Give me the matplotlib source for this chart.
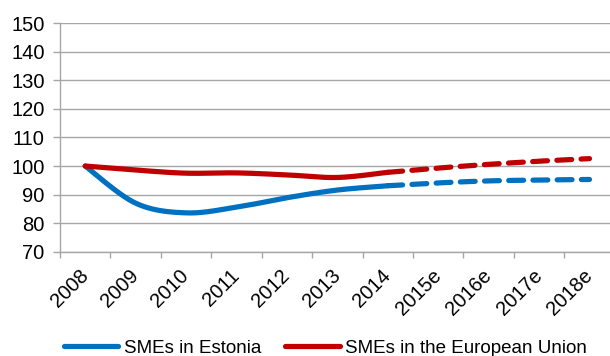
import numpy as np
import matplotlib
matplotlib.use("Agg")
import matplotlib.pyplot as plt

plt.rcParams["font.family"] = ["Liberation Sans", "DejaVu Sans"]

# Index values (2008 = 100)
years = ["2008", "2009", "2010", "2011", "2012", "2013", "2014",
         "2015e", "2016e", "2017e", "2018e"]
estonia = [100.0, 87.0, 83.6, 85.6, 88.9, 91.6, 93.1, 94.1, 94.8, 95.1, 95.3]
eu = [100.0, 98.6, 97.5, 97.6, 96.9, 96.0, 97.8, 99.3, 100.6, 101.7, 102.6]
last_actual = 6  # 2014 is the last observed year; later years are estimates
y_ticks = list(range(70, 151, 10))

BLUE = "#0070C0"
RED = "#C00000"
GREY = "#a6a6a6"


def smooth(xs, ys, n=40):
    """Bezier smoothing through the points (Catmull-Rom style control points)."""
    P = np.column_stack([xs, ys]).astype(float)
    out = [P[0]]
    t = np.linspace(0, 1, n)[1:, None]
    for i in range(len(P) - 1):
        p_prev = P[i - 1] if i > 0 else P[i]
        p_next = P[i + 2] if i + 2 < len(P) else P[i + 1]
        c1 = P[i] + (P[i + 1] - p_prev) / 6.0
        c2 = P[i + 1] - (p_next - P[i]) / 6.0
        seg = ((1 - t) ** 3 * P[i] + 3 * (1 - t) ** 2 * t * c1
               + 3 * (1 - t) * t ** 2 * c2 + t ** 3 * P[i + 1])
        out.extend(seg)
    out = np.array(out)
    return out[:, 0], out[:, 1]


W, H = 610, 356
fig = plt.figure(figsize=(W / 100, H / 100), dpi=100)
ax = fig.add_axes([60 / W, (H - 251.7) / H, 554.7 / W, 228.4 / H])

x = np.arange(len(years))
lw = 3.75
for vals, color, zs in ((estonia, BLUE, 3.0), (eu, RED, 3.1)):
    xa, ya = smooth(x[:last_actual + 1], vals[:last_actual + 1])
    xe, ye = smooth(x[last_actual:], vals[last_actual:])
    ax.plot(xe, ye, color=color, lw=lw, dashes=(2.85, 1.8),
            dash_capstyle="round", zorder=2)
    ax.plot(xa, ya, color=color, lw=lw, solid_capstyle="round",
            solid_joinstyle="round", zorder=zs)

ax.set_xlim(-0.5, len(years) - 0.5)
ax.set_ylim(70, 150)
ax.set_yticks(y_ticks)
ax.set_yticklabels([str(v) for v in y_ticks])
ax.yaxis.grid(True, color=GREY, lw=1.0)
ax.set_axisbelow(True)

ax.set_xticks(x)
ax.set_xticklabels(years, rotation=45, ha="right", va="center",
                   rotation_mode="anchor")
ax.set_xticks(np.arange(-0.5, len(years)), minor=True)
ax.tick_params(axis="x", which="major", length=0, pad=15.0, labelsize=14.5)
ax.tick_params(axis="x", which="minor", length=4, width=1, color=GREY,
               direction="out")
ax.tick_params(axis="y", length=5, width=1, color=GREY, pad=6, labelsize=14.5)

for side in ("top", "right"):
    ax.spines[side].set_visible(False)
for side in ("left", "bottom"):
    ax.spines[side].set_color(GREY)
    ax.spines[side].set_linewidth(1.0)

handles = [
    plt.Line2D([], [], color=BLUE, lw=lw, solid_capstyle="round"),
    plt.Line2D([], [], color=RED, lw=lw, solid_capstyle="round"),
]
fig.legend(handles, ["SMEs in Estonia", "SMEs in the European Union"],
           loc="center", bbox_to_anchor=(325.5 / W, (H - 348.3) / H),
           ncol=2, frameon=False, fontsize=13.5, handlelength=2.9,
           handletextpad=0.3, columnspacing=1.3, borderpad=0.0)

fig.savefig("out.png", dpi=100)
